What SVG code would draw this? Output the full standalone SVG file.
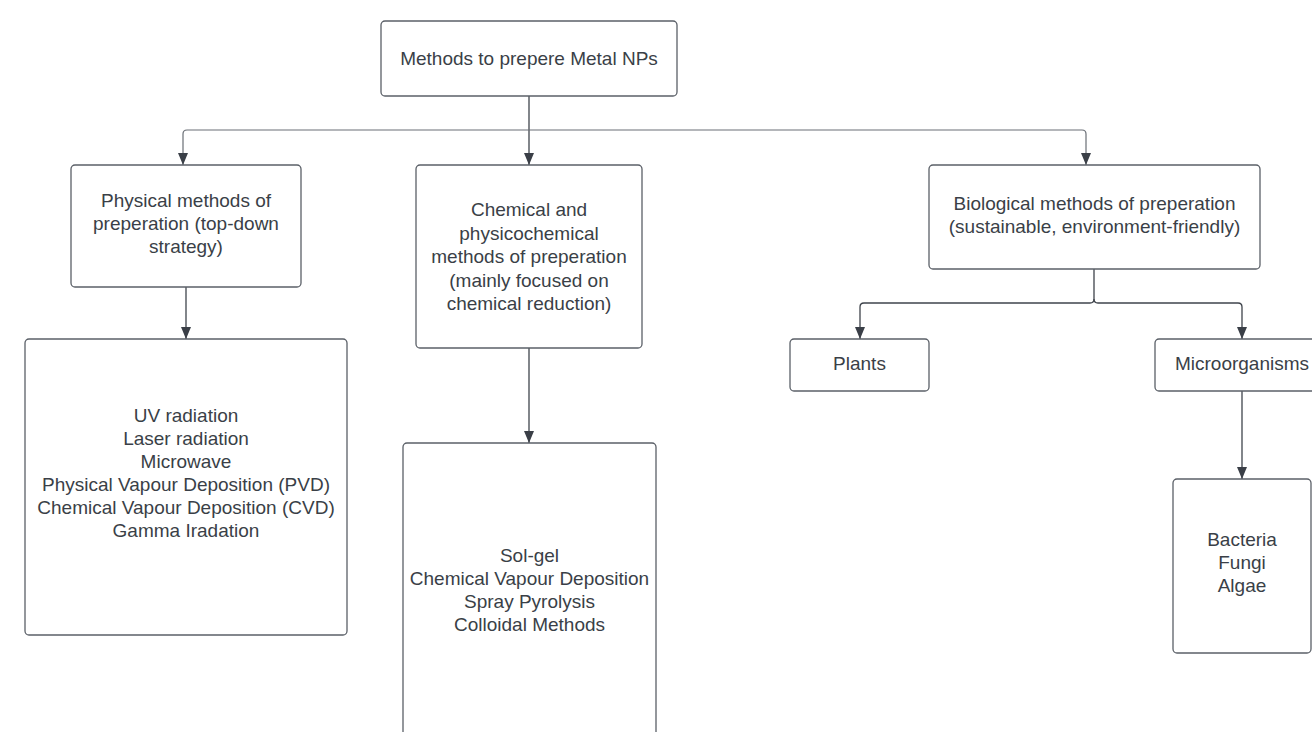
<svg xmlns="http://www.w3.org/2000/svg" width="1312" height="732" viewBox="0 0 1312 732">
<defs>
<marker id="arr" viewBox="0 0 12 10" markerWidth="12" markerHeight="10" refX="12" refY="5" orient="auto" markerUnits="userSpaceOnUse">
<path d="M0,0 L12,5 L0,10 z" fill="#3a3f47"/>
</marker>
<style>
.box{fill:#ffffff;stroke:#5b6068;stroke-width:1.3}
.lbl{font-family:"Liberation Sans",Arial,sans-serif;font-size:19px;fill:#3a3f47;text-anchor:middle}
.con{fill:none;stroke:#3f444c;stroke-width:1.3}
.hcon{fill:none;stroke:#6a6f76;stroke-width:1.2}
</style>
</defs>
<rect width="1312" height="732" fill="#ffffff"/>
<g id="connectors">
<path class="con" d="M529,96 L529,165" marker-end="url(#arr)"/>
<path class="hcon" d="M529,130 L187,130 Q183,130 183,134 L183,165" marker-end="url(#arr)"/>
<path class="hcon" d="M529,130 L1082,130 Q1086,130 1086,134 L1086,165" marker-end="url(#arr)"/>
<path class="con" d="M186,287 L186,339" marker-end="url(#arr)"/>
<path class="con" d="M529,348 L529,443" marker-end="url(#arr)"/>
<path class="con" d="M1094,269 L1094,299 Q1094,303 1090,303 L864,303 Q860,303 860,307 L860,339" marker-end="url(#arr)"/>
<path class="con" d="M1094,299 Q1094,303 1098,303 L1238,303 Q1242,303 1242,307 L1242,339" marker-end="url(#arr)"/>
<path class="con" d="M1242,391 L1242,479" marker-end="url(#arr)"/>
</g>
<g id="root">
<rect class="box" x="381" y="21" width="296" height="75" rx="4"/>
<text class="lbl" x="529" y="65">Methods to prepere Metal NPs</text>
</g>
<g id="physical">
<rect class="box" x="71" y="165" width="230" height="122" rx="4"/>
<text class="lbl" x="186" y="207">Physical methods of</text>
<text class="lbl" x="186" y="230">preperation (top-down</text>
<text class="lbl" x="186" y="253">strategy)</text>
</g>
<g id="chemical">
<rect class="box" x="416" y="165" width="226" height="183" rx="4"/>
<text class="lbl" x="529" y="216">Chemical and</text>
<text class="lbl" x="529" y="240">physicochemical</text>
<text class="lbl" x="529" y="263">methods of preperation</text>
<text class="lbl" x="529" y="287">(mainly focused on</text>
<text class="lbl" x="529" y="310">chemical reduction)</text>
</g>
<g id="biological">
<rect class="box" x="929" y="165" width="331" height="104" rx="4"/>
<text class="lbl" x="1094.5" y="210">Biological methods of preperation</text>
<text class="lbl" x="1094.5" y="233">(sustainable, environment-friendly)</text>
</g>
<g id="physical-list">
<rect class="box" x="25" y="339" width="322" height="296" rx="4"/>
<text class="lbl" x="186" y="422">UV radiation</text>
<text class="lbl" x="186" y="445">Laser radiation</text>
<text class="lbl" x="186" y="468">Microwave</text>
<text class="lbl" x="186" y="491">Physical Vapour Deposition (PVD)</text>
<text class="lbl" x="186" y="514">Chemical Vapour Deposition (CVD)</text>
<text class="lbl" x="186" y="537">Gamma Iradation</text>
</g>
<g id="chemical-list">
<rect class="box" x="403" y="443" width="253" height="310" rx="4"/>
<text class="lbl" x="529.5" y="562">Sol-gel</text>
<text class="lbl" x="529.5" y="585">Chemical Vapour Deposition</text>
<text class="lbl" x="529.5" y="608">Spray Pyrolysis</text>
<text class="lbl" x="529.5" y="631">Colloidal Methods</text>
</g>
<g id="plants">
<rect class="box" x="790" y="339" width="139" height="52" rx="4"/>
<text class="lbl" x="859.5" y="370">Plants</text>
</g>
<g id="microorganisms">
<rect class="box" x="1155" y="339" width="174" height="52" rx="4"/>
<text class="lbl" x="1242" y="370">Microorganisms</text>
</g>
<g id="micro-list">
<rect class="box" x="1173" y="479" width="138" height="174" rx="4"/>
<text class="lbl" x="1242" y="546">Bacteria</text>
<text class="lbl" x="1242" y="569">Fungi</text>
<text class="lbl" x="1242" y="592">Algae</text>
</g>
</svg>
